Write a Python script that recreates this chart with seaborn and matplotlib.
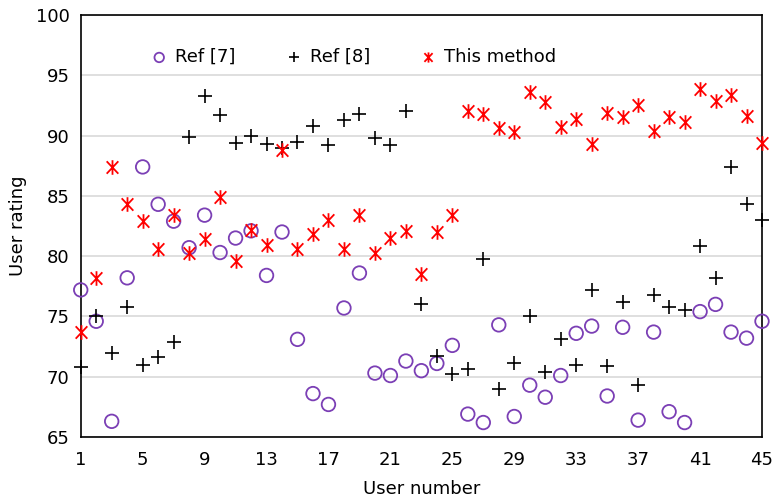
import numpy as np
import pandas as pd
import matplotlib
matplotlib.use("Agg")
import matplotlib.pyplot as plt
from matplotlib.path import Path
import seaborn as sns

# data
users = list(range(1, 46))
ref7 = [77.2, 74.6, 66.3, 78.2, 87.4, 84.3, 82.9, 80.7, 83.4, 80.3,
        81.5, 82.1, 78.4, 82.0, 73.1, 68.6, 67.7, 75.7, 78.6, 70.3,
        70.1, 71.3, 70.5, 71.1, 72.6, 66.9, 66.2, 74.3, 66.7, 69.3,
        68.3, 70.1, 73.6, 74.2, 68.4, 74.1, 66.4, 73.7, 67.1, 66.2,
        75.4, 76.0, 73.7, 73.2, 74.6]
ref8 = [70.8, 75.0, 72.0, 75.8, 71.0, 71.6, 72.9, 89.9, 93.3, 91.7,
        89.4, 90.0, 89.3, 89.0, 89.5, 90.8, 89.2, 91.3, 91.8, 89.8,
        89.2, 92.0, 76.0, 71.7, 70.2, 70.6, 79.8, 69.0, 71.1, 75.0,
        70.4, 73.1, 71.0, 77.2, 70.9, 76.2, 69.3, 76.8, 75.8, 75.5,
        80.8, 78.2, 87.4, 84.3, 83.0]
this_method = [73.7, 78.2, 87.4, 84.3, 82.9, 80.6, 83.4, 80.3, 81.4, 84.9,
               79.6, 82.2, 80.9, 88.8, 80.6, 81.8, 83.0, 80.6, 83.4, 80.3,
               81.5, 82.1, 78.5, 82.0, 83.4, 92.0, 91.8, 90.6, 90.3, 93.6,
               92.8, 90.7, 91.4, 89.3, 91.9, 91.5, 92.5, 90.4, 91.5, 91.1,
               93.9, 92.9, 93.4, 91.6, 89.4]
xticks = [1, 5, 9, 13, 17, 21, 25, 29, 33, 37, 41, 45]

df = pd.DataFrame({"user": users, "ref7": ref7, "ref8": ref8, "ours": this_method})

# asterisk marker: vertical bar plus a steep x
star = Path([(0, -1), (0, 1), (-0.8, -0.85), (0.8, 0.85), (-0.8, 0.85), (0.8, -0.85)],
            [Path.MOVETO, Path.LINETO, Path.MOVETO, Path.LINETO, Path.MOVETO, Path.LINETO])

sns.set_style("white")
plt.rcParams["font.family"] = ["DejaVu Sans"]
plt.rcParams["text.color"] = "black"
plt.rcParams["axes.labelcolor"] = "black"
plt.rcParams["xtick.color"] = "black"
plt.rcParams["ytick.color"] = "black"

fig = plt.figure(figsize=(7.74, 5), dpi=100)
ax = fig.add_axes([0.1043, 0.126, 0.8802, 0.844])

sns.scatterplot(data=df, x="user", y="ref7", ax=ax, marker="o", s=95,
                facecolor="none", edgecolor="#7B3FB5", linewidth=1.3,
                label="Ref [7]", clip_on=False, zorder=3)
sns.scatterplot(data=df, x="user", y="ref8", ax=ax, marker="+", s=90,
                color="black", linewidth=1.2, label="Ref [8]", clip_on=False, zorder=3)
sns.scatterplot(data=df, x="user", y="ours", ax=ax, marker=star, s=110,
                color="#FF0000", edgecolor="#FF0000", linewidth=1.3,
                label="This method", clip_on=False, zorder=3)

ax.set_xlim(1, 45)
ax.set_ylim(65, 100)
ax.set_xticks(xticks)
ax.set_yticks(range(65, 101, 5))
ax.yaxis.grid(True, color="#D9D9D9", linewidth=1.2)
ax.set_axisbelow(True)
for s in ax.spines.values():
    s.set_color("black")
    s.set_linewidth(1.2)
ax.tick_params(axis="x", direction="in", length=6, width=1.2, labelsize=13, pad=10)
ax.tick_params(axis="y", length=0, labelsize=13, pad=8)
ax.set_xlabel("User number", fontsize=13, labelpad=8)
ax.set_ylabel("User rating", fontsize=13, labelpad=6)

ax.legend(loc="center", bbox_to_anchor=(0.40, 0.90), ncol=3, frameon=False,
          fontsize=13, markerscale=0.7, handlelength=1.0, handletextpad=0.4,
          columnspacing=2.7)

fig.savefig("out.png", dpi=100)
